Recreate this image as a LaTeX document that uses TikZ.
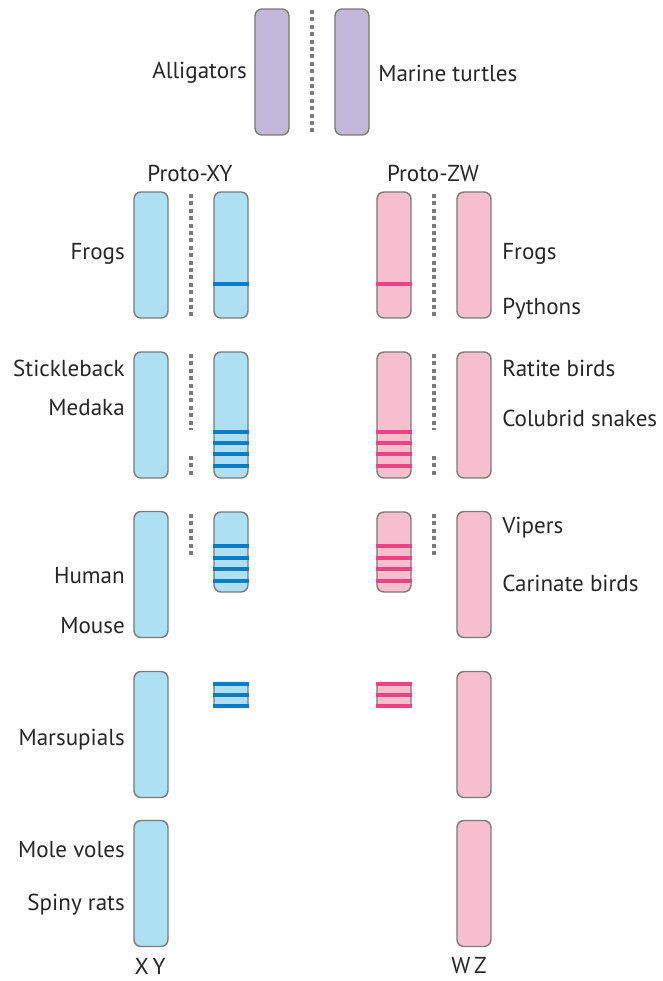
\documentclass[tikz,border=0pt]{standalone}
\usepackage{fontspec}
\setmainfont{PT Sans}
\usetikzlibrary{positioning}
\definecolor{chrpurple}{HTML}{C3B8D9}
\definecolor{chrblue}{HTML}{ACE0F2}
\definecolor{chrpink}{HTML}{F7BFCD}
\definecolor{bandblue}{HTML}{0A7CC8}
\definecolor{bandpink}{HTML}{EC4283}
\definecolor{outlinegray}{HTML}{7A7A7A}
\tikzset{
  chrom/.style={draw=outlinegray, line width=1pt, rounded corners=5pt, minimum width=0.85cm, inner sep=0pt},
  purplechr/.style={chrom, fill=chrpurple},
  bluechr/.style={chrom, fill=chrblue},
  pinkchr/.style={chrom, fill=chrpink},
  blueband/.style={draw=bandblue, line width=2.9pt},
  pinkband/.style={draw=bandpink, line width=2.9pt},
  gapline/.style={draw=outlinegray, line width=2.8pt, dash pattern=on 0.1cm off 0.085cm},
  lbl/.style={font=\fontsize{16.4}{18}\selectfont, text=black!85, inner sep=0pt}
}
\begin{document}
\begin{tikzpicture}[x=0.025cm, y=-0.025cm]
  \useasboundingbox (0,0) rectangle (663,981);

  % ancestral pair
  \node[purplechr, minimum height=3.15cm] (alli) at (272,72) {};
  \node[purplechr, minimum height=3.15cm] (turt) at (352,72) {};
  \draw[gapline] (312,10) -- (312,133);
  \node[lbl, anchor=east] (alliL) at (247,73) {Alligators};
  \node[lbl, anchor=west] (turtL) at (378,73) {Marine turtles};

  \node[lbl] (protoXY) at (190,173) {Proto-XY};
  \node[lbl] (protoZW) at (433,173) {Proto-ZW};

  % XY side
  \node[bluechr, minimum height=3.15cm] (x1) at (151,255) {};
  \node[bluechr, minimum height=3.15cm] (y1) at (231,255) {};
  \node[bluechr, minimum height=3.15cm] (x2) at (151,415) {};
  \node[bluechr, minimum height=3.15cm] (y2) at (231,415) {};
  \node[bluechr, minimum height=3.15cm] (x3) at (151,574.5) {};
  \node[bluechr, minimum height=2cm] (y3) at (231,552) {};
  \node[bluechr, minimum height=3.15cm] (x4) at (151,734.5) {};
  \node[bluechr, minimum height=0.625cm, rounded corners=1pt] (y4) at (231,695) {};
  \node[bluechr, minimum height=3.15cm] (x5) at (151,883.5) {};

  \draw[blueband] (y1.west |- 0,284) -- (y1.east |- 0,284);
  \foreach \b in {432,443,454,466}
    \draw[blueband] (y2.west |- 0,\b) -- (y2.east |- 0,\b);
  \foreach \b in {546,558,569,581}
    \draw[blueband] (y3.west |- 0,\b) -- (y3.east |- 0,\b);
  \foreach \b in {684,695,706}
    \draw[blueband] (y4.west |- 0,\b) -- (y4.east |- 0,\b);

  \draw[gapline] (191,194) -- (191,316);
  \draw[gapline] (191,354) -- (191,430);
  \draw[gapline] (191,456) -- (191,478);
  \draw[gapline] (191,514) -- (191,556);

  % ZW side
  \node[pinkchr, minimum height=3.15cm] (w1) at (394,255) {};
  \node[pinkchr, minimum height=3.15cm] (z1) at (474,255) {};
  \node[pinkchr, minimum height=3.15cm] (w2) at (394,415) {};
  \node[pinkchr, minimum height=3.15cm] (z2) at (474,415) {};
  \node[pinkchr, minimum height=2cm] (w3) at (394,552) {};
  \node[pinkchr, minimum height=3.15cm] (z3) at (474,574.5) {};
  \node[pinkchr, minimum height=0.625cm, rounded corners=1pt] (w4) at (394,695) {};
  \node[pinkchr, minimum height=3.15cm] (z4) at (474,734.5) {};
  \node[pinkchr, minimum height=3.15cm] (z5) at (474,883.5) {};

  \draw[pinkband] (w1.west |- 0,284) -- (w1.east |- 0,284);
  \foreach \b in {432,443,454,466}
    \draw[pinkband] (w2.west |- 0,\b) -- (w2.east |- 0,\b);
  \foreach \b in {546,558,569,581}
    \draw[pinkband] (w3.west |- 0,\b) -- (w3.east |- 0,\b);
  \foreach \b in {684,695,706}
    \draw[pinkband] (w4.west |- 0,\b) -- (w4.east |- 0,\b);

  \draw[gapline] (434,194) -- (434,316);
  \draw[gapline] (434,354) -- (434,430);
  \draw[gapline] (434,456) -- (434,478);
  \draw[gapline] (434,514) -- (434,556);

  % species labels
  \node[lbl, anchor=east] (frogsXY) at (125,254) {Frogs};
  \node[lbl, anchor=east] (stickL) at (125,368) {Stickleback};
  \node[lbl, anchor=east] (medakaL) at (125,408) {Medaka};
  \node[lbl, anchor=east] (humanL) at (125,576) {Human};
  \node[lbl, anchor=east] (mouseL) at (125,626) {Mouse};
  \node[lbl, anchor=east] (marsL) at (125,740) {Marsupials};
  \node[lbl, anchor=east] (moleL) at (125,850) {Mole voles};
  \node[lbl, anchor=east] (spinyL) at (125,905) {Spiny rats};

  \node[lbl, anchor=west] (frogsZW) at (502,254) {Frogs};
  \node[lbl, anchor=west] (pythL) at (502,309) {Pythons};
  \node[lbl, anchor=west] (ratiteL) at (502,368) {Ratite birds};
  \node[lbl, anchor=west] (colubL) at (502,418) {Colubrid snakes};
  \node[lbl, anchor=west] (viperL) at (502,528) {Vipers};
  \node[lbl, anchor=west] (carinL) at (502,583) {Carinate birds};

  \node[lbl] (xyL) at (150,966) {X\,Y};
  \node[lbl] (wzL) at (469,966) {W\,Z};
\end{tikzpicture}
\end{document}
